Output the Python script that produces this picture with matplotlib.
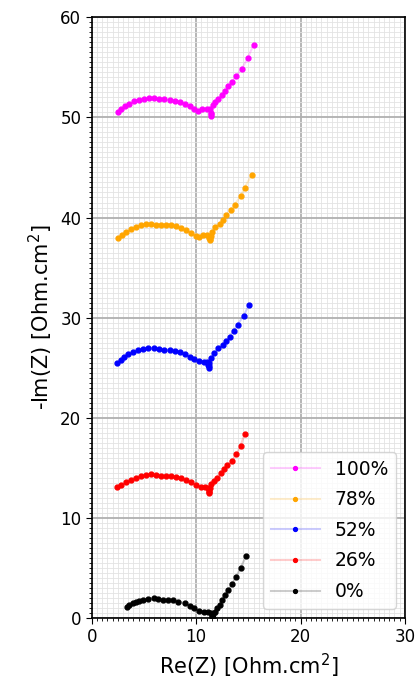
import matplotlib
matplotlib.use("Agg")
from matplotlib import pyplot as plt
from matplotlib.ticker import MultipleLocator

# Nyquist data, one curve per humidity level
x_0 = [3.36, 3.61, 3.93, 4.25, 4.57, 4.95, 5.37, 5.94, 6.33, 6.81, 7.29, 7.77, 8.31, 8.89,
       9.37, 9.84, 10.32, 10.8, 11.12, 11.38, 11.5, 11.6, 11.55, 11.62, 11.76, 12.01, 12.24,
       12.46, 12.72, 13.1, 13.42, 13.84, 14.26, 14.79]
y_0 = [1.07, 1.30, 1.47, 1.63, 1.73, 1.83, 1.87, 1.96, 1.87, 1.83, 1.80, 1.77, 1.63, 1.47,
       1.23, 0.97, 0.73, 0.63, 0.57, 0.47, 0.23, 0.03, 0.12, 0.35, 0.63, 0.97, 1.30,
       1.80, 2.30, 2.80, 3.36, 4.12, 5.02, 6.19]

x_26 = [2.43, 2.81, 3.29, 3.77, 4.25, 4.73, 5.21, 5.69, 6.17, 6.65, 7.12, 7.6, 8.08, 8.56,
        9.04, 9.52, 10.0, 10.48, 10.86, 11.12, 11.19, 11.22, 11.25, 11.3, 11.44, 11.7, 12.01,
        12.34, 12.66, 12.97, 13.42, 13.84, 14.26, 14.64]
y_26 = [13.04, 13.27, 13.54, 13.77, 14.0, 14.2, 14.3, 14.37, 14.27, 14.2, 14.2, 14.17, 14.07, 14.0,
        13.77, 13.54, 13.27, 13.1, 13.07, 13.0, 12.67, 12.44, 12.6, 12.95, 13.34, 13.67, 14.0,
        14.44, 14.87, 15.27, 15.67, 16.34, 17.2, 18.36]

x_52 = [2.43, 2.81, 3.13, 3.52, 3.93, 4.41, 4.89, 5.37, 5.94, 6.49, 6.97, 7.45, 7.93, 8.41,
        8.89, 9.37, 9.84, 10.32, 10.8, 11.05, 11.12, 11.19, 11.2, 11.28, 11.44, 11.7, 12.08,
        12.56, 12.88, 13.2, 13.59, 13.97, 14.54, 15.05]
y_52 = [25.48, 25.75, 26.05, 26.32, 26.52, 26.72, 26.82, 26.92, 26.92, 26.85, 26.78, 26.72, 26.65, 26.52,
        26.32, 26.08, 25.82, 25.65, 25.58, 25.58, 25.25, 24.98, 25.15, 25.5, 25.98, 26.42, 26.92,
        27.25, 27.65, 28.07, 28.71, 29.31, 30.17, 31.24]

x_78 = [2.49, 2.88, 3.29, 3.77, 4.25, 4.73, 5.21, 5.69, 6.17, 6.65, 7.12, 7.6, 8.08, 8.56,
        9.04, 9.52, 10.0, 10.32, 10.64, 11.05, 11.28, 11.34, 11.3, 11.38, 11.5, 11.82, 12.24,
        12.56, 12.88, 13.3, 13.68, 14.26, 14.64, 15.34]
y_78 = [37.95, 38.22, 38.55, 38.82, 39.05, 39.25, 39.32, 39.32, 39.29, 39.29, 39.29, 39.22, 39.12, 38.95,
        38.72, 38.45, 38.12, 38.05, 38.22, 38.25, 37.99, 37.72, 37.85, 38.2, 38.55, 39.05, 39.39,
        39.79, 40.22, 40.72, 41.29, 42.12, 42.98, 44.28]

x_100 = [2.49, 2.81, 3.19, 3.61, 4.09, 4.57, 5.05, 5.53, 6.01, 6.49, 6.97, 7.45, 7.93, 8.41,
         8.89, 9.37, 9.78, 10.16, 10.55, 11.03, 11.34, 11.41, 11.44, 11.42, 11.6, 11.82, 12.08,
         12.5, 12.78, 13.1, 13.42, 13.84, 14.38, 14.96, 15.5]
y_100 = [50.53, 50.8, 51.1, 51.37, 51.6, 51.77, 51.87, 51.9, 51.9, 51.87, 51.8, 51.73, 51.67, 51.53,
         51.37, 51.13, 50.87, 50.67, 50.8, 50.87, 50.8, 50.47, 50.13, 50.3, 51.2, 51.53, 51.87,
         52.2, 52.6, 53.12, 53.52, 54.12, 54.86, 55.96, 57.26]

labels = ["100%", "78%", "52%", "26%", "0%"]
colors = ["magenta", "orange", "blue", "red", "black"]
xs = [x_100, x_78, x_52, x_26, x_0]
ys = [y_100, y_78, y_52, y_26, y_0]

fig = plt.figure(figsize=(4.17, 6.92), dpi=100)
ax = fig.add_axes([0.22, 0.107, 0.751, 0.868])

for x, y, lab, c in zip(xs, ys, labels, colors):
    line_col = matplotlib.colors.to_rgba(c, 0.2)
    ax.plot(x, y, marker=".", markersize=7, linewidth=1.5, color=line_col,
            markerfacecolor=c, markeredgecolor=c, label=lab)

ax.set_xlim(0, 30)
ax.set_ylim(0, 60)
ax.xaxis.set_major_locator(MultipleLocator(10))
ax.yaxis.set_major_locator(MultipleLocator(10))
ax.xaxis.set_minor_locator(MultipleLocator(0.5))
ax.yaxis.set_minor_locator(MultipleLocator(0.5))
ax.grid(which="major", color="#b0b0b0", linewidth=1.3)
ax.grid(which="minor", color="#e3e3e3", linewidth=0.6)
ax.tick_params(which="major", labelsize=12, length=4)
ax.tick_params(which="minor", length=2.5)
for s in ax.spines.values():
    s.set_linewidth(1.2)

ax.set_xlabel(r"Re(Z) [Ohm.cm$^2$]", fontsize=15)
ax.set_ylabel(r"-Im(Z) [Ohm.cm$^2$]", fontsize=15)
leg = ax.legend(loc="lower right", fontsize=13.5, handlelength=2.6,
                labelspacing=0.62, markerscale=0.8)

fig.savefig("out.png", dpi=100)
plt.close()
